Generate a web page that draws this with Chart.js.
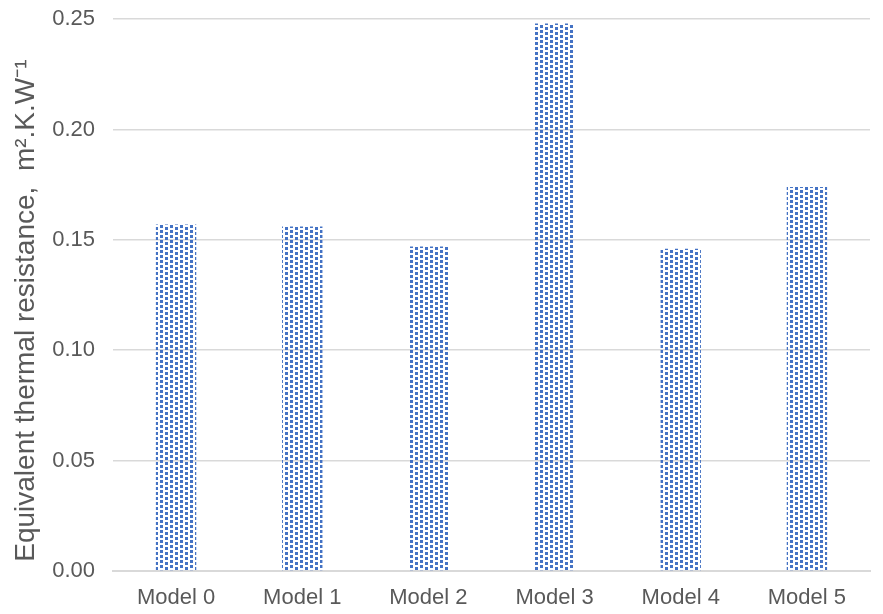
<!DOCTYPE html>
<html>
<head>
<meta charset="utf-8">
<script src="https://cdn.jsdelivr.net/npm/chart.js@4/dist/chart.umd.min.js"></script>
<style>
  html, body { margin: 0; padding: 0; background: #fff; }
  #wrap { width: 883px; height: 614px; }
</style>
</head>
<body>
<div id="wrap"><canvas id="myChart"></canvas></div>
<script>
const categories = ['Model 0', 'Model 1', 'Model 2', 'Model 3', 'Model 4', 'Model 5'];
const resistance = [0.157, 0.156, 0.147, 0.248, 0.146, 0.174];

// small dotted tile, like the Excel "dotted grid" fill
function makePattern() {
  const c = document.createElement('canvas');
  c.width = 10;
  c.height = 10;
  const g = c.getContext('2d');
  g.fillStyle = '#4472c4';
  g.fillRect(0, 0, 3, 3);
  g.fillRect(0, 5, 3, 3);
  g.fillRect(5, 2, 3, 3);
  g.fillRect(5, 7, 3, 3);
  return document.getElementById('myChart').getContext('2d').createPattern(c, 'repeat');
}

const ctx = document.getElementById('myChart').getContext('2d');
Chart.defaults.font.family = '"Liberation Sans", Arial, sans-serif';
Chart.defaults.color = '#595959';

new Chart(ctx, {
  type: 'bar',
  data: {
    labels: categories,
    datasets: [{
      data: resistance,
      backgroundColor: makePattern(),
      borderWidth: 0,
      barPercentage: 0.64,
      categoryPercentage: 0.5
    }]
  },
  options: {
    responsive: true,
    maintainAspectRatio: false,
    animation: false,
    layout: { padding: { left: 9, right: 13, top: 0, bottom: 0 } },
    plugins: { legend: { display: false }, tooltip: { enabled: false } },
    scales: {
      x: {
        afterFit: s => { s.height = 43; },
        grid: { display: false, drawTicks: false },
        border: { color: '#d9d9d9', width: 2 },
        ticks: { font: { size: 22 }, padding: 14 }
      },
      y: {
        min: 0,
        max: 0.25,
        afterFit: s => { s.width = 104; },
        ticks: {
          stepSize: 0.05,
          font: { size: 22, lineHeight: 0.1 },
          padding: 18,
          callback: v => v.toFixed(2)
        },
        grid: { color: '#d9d9d9', lineWidth: 1.5, drawTicks: false },
        border: { display: false },
        title: {
          display: true,
          // trailing spaces nudge the centred title down a little
          text: 'Equivalent thermal resistance,  m².K.W⁻¹    ',
          font: { size: 28 },
          padding: { top: 0, bottom: 4 }
        }
      }
    }
  }
});
</script>
</body>
</html>
